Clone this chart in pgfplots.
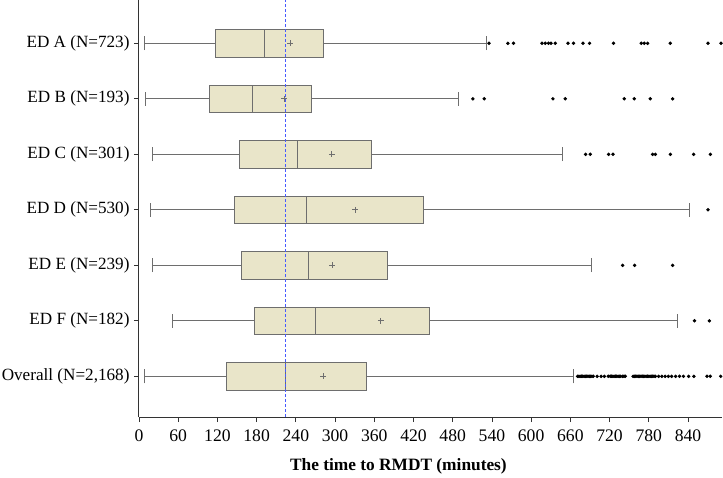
\documentclass[border=0pt]{standalone}
\usepackage{fontspec}
\setmainfont{Liberation Serif}
\usepackage{pgfplots}
\pgfplotsset{compat=1.18}
\usepgfplotslibrary{statistics}
\usetikzlibrary{calc}
\definecolor{boxfill}{HTML}{E9E5C9}
\definecolor{boxedge}{HTML}{6E6E6E}
\definecolor{refline}{RGB}{70,90,255}

\begin{document}
\begin{tikzpicture}
\begin{axis}[
    scale only axis,
    width=583bp, height=417bp,
    xmin=0, xmax=892,
    ymin=0.267, ymax=7.78,
    axis lines*=left,
    axis line style={black!80, line width=1bp},
    xtick={0,60,...,840},
    ytick={1,...,7},
    yticklabels={{Overall (N=2,168)},{ED F (N=182)},{ED E (N=239)},{ED D (N=530)},{ED C (N=301)},{ED B (N=193)},{ED A (N=723)}},
    tick align=outside,
    major tick length=5bp,
    tick style={black!80, line width=0.8bp},
    /pgf/number format/assume math mode=true,
    xticklabel style={font=\fontsize{17.7}{20}\selectfont, yshift=-4bp},
    yticklabel style={font=\fontsize{17.2}{20}\selectfont, xshift=-1bp},
    xlabel={\textbf{The time to RMDT (minutes)}},
    xlabel style={font=\fontsize{17.4}{20}\selectfont, at={(ticklabel cs:0.445)}, yshift=-10bp},
    boxplot/draw direction=x,
    boxplot/box extend=0.5,
    boxplot/whisker extend=0.25,
    boxplot/every average/.style={/tikz/mark=+, /tikz/mark size=3bp, /tikz/mark options={draw=black!70, line width=0.6bp}},
    bx/.style={draw=boxedge, fill=boxfill, line width=0.8bp, solid,
        mark=*, mark size=1.3bp, mark options={draw=black, fill=black}},
]
% ED A
\addplot[bx, boxplot prepared={draw position=7, lower whisker=7.7, lower quartile=117,
    median=192, upper quartile=282.7, upper whisker=532, average=231.7}]
    table[row sep=\\, y index=0] {v\\ 535.4\\ 564.4\\ 573\\ 616.5\\ 621.6\\ 626.6\\ 630.3\\ 636.9\\ 656.3\\ 664.9\\ 679.3\\ 689.4\\ 726.1\\ 768.5\\ 773.1\\ 778.2\\ 812.9\\ 870.6\\ 890.5\\};
% ED B
\addplot[bx, boxplot prepared={draw position=6, lower whisker=9.7, lower quartile=108.2,
    median=173.5, upper quartile=263.8, upper whisker=488.9, average=222}]
    table[row sep=\\, y index=0] {v\\ 510.8\\ 528.2\\ 633.3\\ 652.2\\ 742.5\\ 757.8\\ 782.3\\ 816.5\\};
% ED C
\addplot[bx, boxplot prepared={draw position=5, lower whisker=21, lower quartile=153.6,
    median=242.4, upper quartile=355.7, upper whisker=647.6, average=295}]
    table[row sep=\\, y index=0] {v\\ 683.3\\ 690.5\\ 718.5\\ 725.2\\ 785.8\\ 790\\ 813\\ 848.6\\ 874.2\\};
% ED D
\addplot[bx, boxplot prepared={draw position=4, lower whisker=17.9, lower quartile=146.5,
    median=256.1, upper quartile=435.2, upper whisker=842.5, average=330.7}]
    table[row sep=\\, y index=0] {v\\ 870.6\\};
% ED E
\addplot[bx, boxplot prepared={draw position=3, lower whisker=20.4, lower quartile=156.6,
    median=259.2, upper quartile=380.1, upper whisker=692.5, average=295.9}]
    table[row sep=\\, y index=0] {v\\ 740\\ 758.3\\ 816.5\\};
% ED F
\addplot[bx, boxplot prepared={draw position=2, lower whisker=51, lower quartile=177,
    median=269.4, upper quartile=444, upper whisker=824, average=370}]
    table[row sep=\\, y index=0] {v\\ 850\\ 872.6\\};
% Overall
\addplot[bx, boxplot prepared={draw position=1, lower whisker=7.7, lower quartile=133.7,
    median=224.6, upper quartile=348.5, upper whisker=664.9, average=282.2}]
    table[row sep=\\, y index=0] {v\\ 671\\ 673\\ 675\\ 677\\ 679\\ 681\\ 683\\ 685\\ 687\\ 689\\ 691\\ 693\\ 695\\
    701\\ 707\\ 712\\ 718\\ 721\\ 723\\ 725\\ 727\\ 729\\ 731\\ 733\\ 735\\ 737\\ 740\\ 742\\ 744\\
    756\\ 758\\ 760\\ 762\\ 764\\ 766\\ 768\\ 770\\ 772\\ 774\\ 776\\ 778\\ 780\\ 782\\ 784\\ 786\\ 788\\ 790\\
    795\\ 800\\ 805\\ 810\\ 815\\ 821\\ 827\\ 833\\ 841\\ 849\\ 869\\ 874\\ 890\\};
% reference line at the overall median, over the boxes
\addplot[draw=refline, line width=1.4bp, dash pattern=on 3bp off 2bp, mark=none] coordinates {(224,0.267) (224,7.78)};
\end{axis}
\pgfresetboundingbox
\path[use as bounding box] ($(current axis.south west)+(-139bp,-60.3bp)$) rectangle ($(current axis.north east)+(1bp,0bp)$);
\end{tikzpicture}
\end{document}
